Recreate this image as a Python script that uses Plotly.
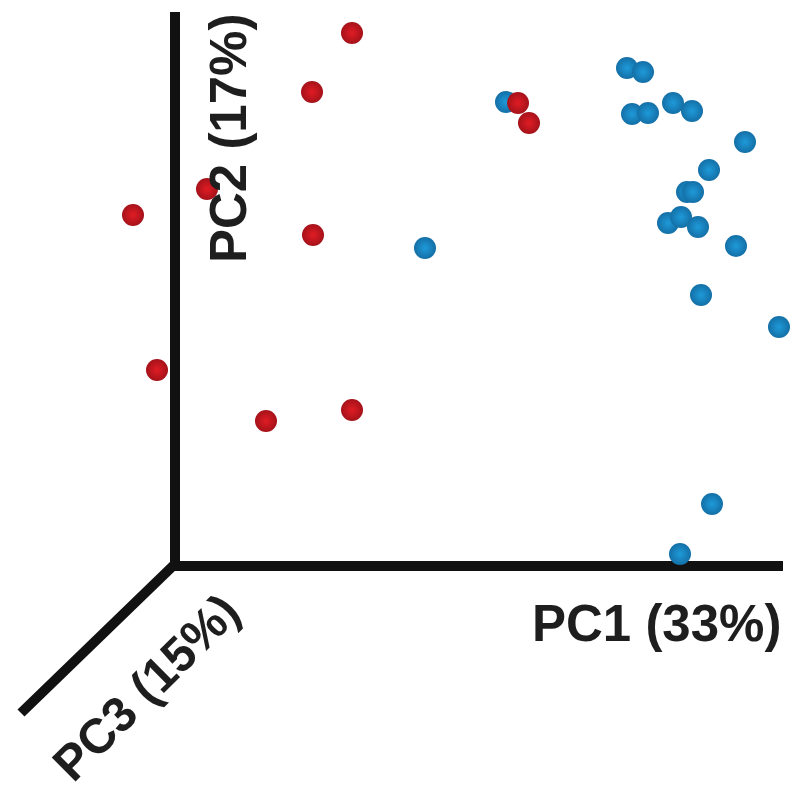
import plotly.graph_objects as go

# Projected PCA coordinates (screen-projected PC1/PC2/PC3 view)
red_x = [352, 312, 207, 133, 313, 157, 266, 352, 518, 529]
red_y = [33, 92, 189, 215, 235, 370, 421, 410, 103, 123]

blue_x = [506, 627, 643, 632, 648, 673, 692, 745, 709, 687, 693, 668, 681, 698, 736, 701, 779, 425, 712, 680]
blue_y = [102, 68, 72, 114, 113, 103, 111, 142, 170, 192, 192, 223, 217, 227, 246, 295, 327, 248, 504, 554]

axis_labels = ["PC1 (33%)", "PC2 (17%)", "PC3 (15%)"]

fig = go.Figure()
fig.add_trace(go.Scatter(
    x=blue_x, y=blue_y, mode="markers",
    marker=dict(size=22, color="#146fa6",
                gradient=dict(type="radial", color="#1e9ad9"),
                line=dict(width=0)),
    showlegend=False, hoverinfo="skip"))
fig.add_trace(go.Scatter(
    x=red_x, y=red_y, mode="markers",
    marker=dict(size=22, color="#a5121a",
                gradient=dict(type="radial", color="#e01c24"),
                line=dict(width=0)),
    showlegend=False, hoverinfo="skip"))

line = dict(color="#111111", width=10)
fig.add_shape(type="line", x0=175, y0=12, x1=175, y1=568, xref="x", yref="y", line=line, layer="below")
fig.add_shape(type="line", x0=170, y0=566, x1=783, y1=566, xref="x", yref="y", line=line, layer="below")
fig.add_shape(type="line", x0=176, y0=563, x1=21, y1=713, xref="x", yref="y", line=line, layer="below")

font = dict(family="Liberation Sans, Arial, sans-serif", size=51, color="#1e1e1e", weight="bold")
font3 = dict(family="Liberation Sans, Arial, sans-serif", size=49, color="#1e1e1e", weight="bold")
fig.add_annotation(x=656, y=623, xref="x", yref="y", text=axis_labels[0], showarrow=False, font=font)
fig.add_annotation(x=228, y=139, xref="x", yref="y", text=axis_labels[1], showarrow=False, font=font, textangle=-90)
fig.add_annotation(x=146, y=687, xref="x", yref="y", text=axis_labels[2], showarrow=False, font=font3, textangle=-45)

fig.update_layout(
    width=792, height=797,
    margin=dict(l=0, r=0, t=0, b=0),
    paper_bgcolor="white", plot_bgcolor="white",
    xaxis=dict(range=[0, 792], visible=False, fixedrange=True),
    yaxis=dict(range=[797, 0], visible=False, fixedrange=True),
)
fig.write_html("out.html")
